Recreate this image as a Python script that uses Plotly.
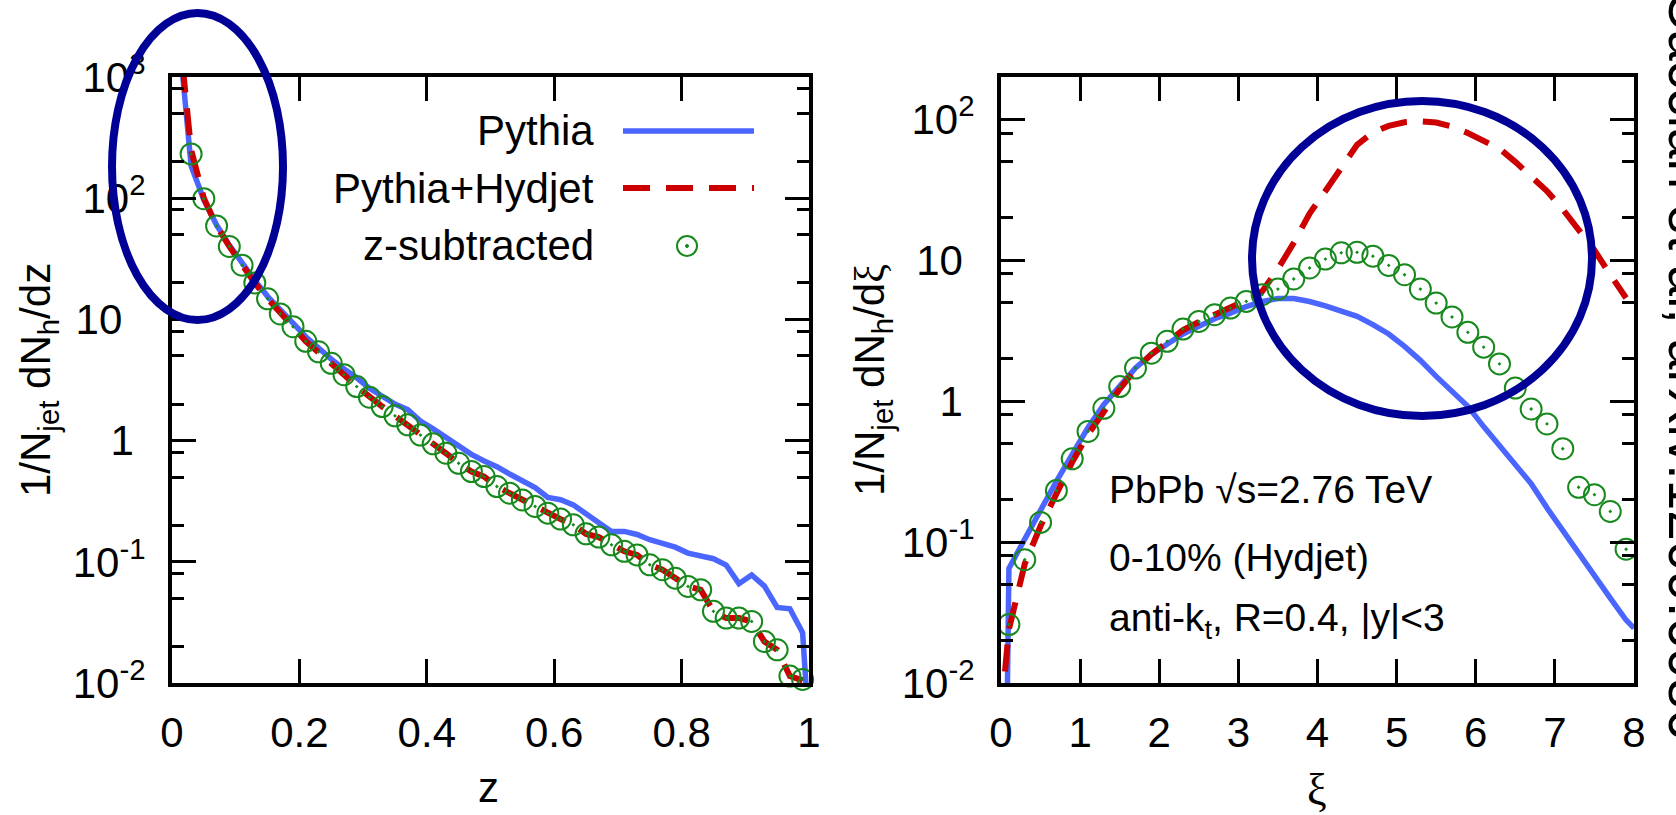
import plotly.graph_objects as go

W, H = 1676, 815
FONT = "Liberation Sans"
BLUE = "#4a66ff"
RED = "#cc0000"
GREEN = "#17891d"
NAVY = "#000096"
TITLE_BLUE = "#2233a6"

# ---------------- left panel: 1/Njet dNh/dz versus z ----------------
z_bins = [0.01, 0.03, 0.05, 0.07, 0.09, 0.11, 0.13, 0.15, 0.17, 0.19,
          0.21, 0.23, 0.25, 0.27, 0.29, 0.31, 0.33, 0.35, 0.37, 0.39,
          0.41, 0.43, 0.45, 0.47, 0.49, 0.51, 0.53, 0.55, 0.57, 0.59,
          0.61, 0.63, 0.65, 0.67, 0.69, 0.71, 0.73, 0.75, 0.77, 0.79,
          0.81, 0.83, 0.85, 0.87, 0.89, 0.91, 0.93, 0.95, 0.97, 0.99]

pythia_z_pos = z_bins + [1.0]
pythia_z = [2500, 185, 97, 60, 41, 29, 21, 15.5, 11.8, 9.3,
            7.2, 5.8, 4.7, 3.9, 3.3, 2.7, 2.3, 2.0, 1.8, 1.45,
            1.25, 1.06, 0.90, 0.77, 0.68, 0.61, 0.53, 0.47, 0.41, 0.34,
            0.325, 0.295, 0.245, 0.21, 0.178, 0.178, 0.168, 0.152, 0.142, 0.132,
            0.118, 0.113, 0.106, 0.094, 0.066, 0.078, 0.063, 0.042, 0.041, 0.026,
            0.004]

hydjet_z = [2800, 250, 100, 59, 40, 28, 20, 14.8, 11.1, 8.7,
            6.6, 5.4, 4.34, 3.5, 2.79, 2.28, 1.91, 1.60, 1.35, 1.11,
            0.94, 0.787, 0.65, 0.556, 0.505, 0.418, 0.368, 0.324, 0.286, 0.252,
            0.225, 0.202, 0.170, 0.160, 0.138, 0.122, 0.114, 0.0945, 0.086, 0.0733,
            0.0626, 0.0588, 0.039, 0.0343, 0.0343, 0.0322, 0.022, 0.0188, 0.0114, 0.0105]

sub_z_pos = z_bins[1:]
sub_z = [232, 99, 59, 40, 28, 20, 14.8, 11.1, 8.7,
         6.6, 5.4, 4.34, 3.5, 2.79, 2.28, 1.91, 1.60, 1.35, 1.11,
         0.94, 0.787, 0.65, 0.556, 0.505, 0.418, 0.368, 0.324, 0.286, 0.252,
         0.225, 0.202, 0.170, 0.160, 0.138, 0.122, 0.114, 0.0945, 0.086, 0.0733,
         0.0626, 0.0588, 0.039, 0.0343, 0.0343, 0.0322, 0.022, 0.0188, 0.0114, 0.0107]

# ---------------- right panel: 1/Njet dNh/dxi versus xi ----------------
xi_bins = [0.1, 0.3, 0.5, 0.7, 0.9, 1.1, 1.3, 1.5, 1.7, 1.9,
           2.1, 2.3, 2.5, 2.7, 2.9, 3.1, 3.3, 3.5, 3.7, 3.9,
           4.1, 4.3, 4.5, 4.7, 4.9, 5.1, 5.3, 5.5, 5.7, 5.9,
           6.1, 6.3, 6.5, 6.7, 6.9, 7.1, 7.3, 7.5, 7.7, 7.9]

pythia_xi_pos = [0.07] + xi_bins + [8.0]
pythia_xi = [0.003,
             0.065, 0.105, 0.17, 0.27, 0.42, 0.65, 0.95, 1.3, 1.72, 2.15,
             2.55, 3.0, 3.4, 3.85, 4.22, 4.7, 5.1, 5.35, 5.35, 5.1,
             4.75, 4.35, 4.0, 3.5, 3.0, 2.45, 1.95, 1.5, 1.17, 0.92,
             0.66, 0.48, 0.36, 0.26, 0.175, 0.12, 0.083, 0.057, 0.04, 0.028,
             0.0245]

hydjet_xi_pos = [0.0] + xi_bins
hydjet_xi = [0.006,
             0.024, 0.07, 0.13, 0.22, 0.37, 0.58, 0.86, 1.22, 1.68, 2.15,
             2.62, 3.2, 3.65, 4.1, 4.6, 5.2, 6.0, 8.7, 13.3, 21.5,
             31, 46, 66, 81, 90, 95.5, 97, 95, 89, 80,
             71, 62, 50, 40, 31, 23, 16.5, 11.8, 7.9, 5.4]

sub_xi = [0.026, 0.075, 0.138, 0.232, 0.39, 0.61, 0.89, 1.27, 1.72, 2.19,
          2.66, 3.25, 3.68, 4.11, 4.58, 5.11, 5.70, 6.25, 7.37, 8.82,
          10.2, 11.3, 11.4, 10.7, 9.2, 7.9, 6.25, 4.97, 3.96, 3.08,
          2.42, 1.84, 1.24, 0.88, 0.69, 0.46, 0.245, 0.217, 0.165, 0.089]

z_ticks = [0, 0.2, 0.4, 0.6, 0.8, 1]
z_tick_text = ["0", "0.2", "0.4", "0.6", "0.8", "1"]
xi_ticks = [0, 1, 2, 3, 4, 5, 6, 7, 8]
xi_tick_text = ["0", "1", "2", "3", "4", "5", "6", "7", "8"]
left_y_ticks = [0.01, 0.1, 1, 10, 100, 1000]
left_y_text = ["10<sup>-2</sup>", "10<sup>-1</sup>", "1\u00a0", "10\u00a0\u00a0",
               "10<sup>2</sup>", "10<sup>3</sup>"]
right_y_ticks = [0.01, 0.1, 1, 10, 100]
right_y_text = ["10<sup>-2</sup>", "10<sup>-1</sup>", "1\u00a0", "10\u00a0", "10<sup>2</sup>"]
left_minor = [0.02, 0.05, 0.08, 0.2, 0.5, 0.8, 2, 5, 8, 20, 50, 80, 200, 500, 800]
right_minor = [0.02, 0.05, 0.08, 0.2, 0.5, 0.8, 2, 5, 8, 20, 50, 80]

# slide title above the panels: only the lower edge of its glyphs lies inside the page
title_chars = ["g", "(", ")"]
title_x_px = [514, 1114, 1441]
title_y_px = [-42, -42, -42]


def px(x):
    return x / W


def py(y):
    return 1 - y / H


fig = go.Figure()

# left panel curves
fig.add_trace(go.Scatter(x=pythia_z_pos, y=pythia_z, mode="lines", name="Pythia",
                         line=dict(color=BLUE, width=5.5), xaxis="x", yaxis="y"))
fig.add_trace(go.Scatter(x=z_bins, y=hydjet_z, mode="lines", name="Pythia+Hydjet",
                         line=dict(color=RED, width=6, dash="27px,16px"), xaxis="x", yaxis="y"))
fig.add_trace(go.Scatter(x=sub_z_pos, y=sub_z, mode="markers", name="z-subtracted",
                         marker=dict(symbol="circle-open-dot", size=21, color=GREEN,
                                     line=dict(width=2, color=GREEN)),
                         cliponaxis=False, xaxis="x", yaxis="y"))

# right panel curves
fig.add_trace(go.Scatter(x=pythia_xi_pos, y=pythia_xi, mode="lines", name="Pythia",
                         line=dict(color=BLUE, width=5.5), xaxis="x2", yaxis="y2"))
fig.add_trace(go.Scatter(x=hydjet_xi_pos, y=hydjet_xi, mode="lines", name="Pythia+Hydjet",
                         line=dict(color=RED, width=6, dash="27px,16px"), xaxis="x2", yaxis="y2"))
fig.add_trace(go.Scatter(x=xi_bins, y=sub_xi, mode="markers", name="z-subtracted",
                         marker=dict(symbol="circle-open-dot", size=21, color=GREEN,
                                     line=dict(width=2, color=GREEN)),
                         cliponaxis=False, xaxis="x2", yaxis="y2"))

# full-page layer in pixel units for the cut-off title
fig.add_trace(go.Scatter(x=title_x_px, y=title_y_px, mode="text", text=title_chars,
                         textposition="middle center", hoverinfo="skip", cliponaxis=False,
                         textfont=dict(family=FONT, size=56, color=TITLE_BLUE),
                         xaxis="x3", yaxis="y3"))

axis_common = dict(showline=True, linewidth=4, linecolor="black", mirror="allticks",
                   ticks="inside", ticklen=24, tickwidth=3, tickcolor="black",
                   showgrid=False, zeroline=False, automargin=False,
                   tickfont=dict(family=FONT, size=42, color="black"))
minor_common = dict(ticks="inside", ticklen=12, tickwidth=3, tickcolor="black", showgrid=False)

y_dom = [py(683), py(77)]

fig.update_layout(
    width=W, height=H,
    margin=dict(l=0, r=0, t=0, b=0, pad=0, autoexpand=False),
    paper_bgcolor="white", plot_bgcolor="rgba(0,0,0,0)",
    showlegend=False,
    font=dict(family=FONT, color="black"),
    xaxis=dict(domain=[px(172), px(809)], range=[0, 1], anchor="y",
               tickmode="array", tickvals=z_ticks, ticktext=z_tick_text,
               ticklabelstandoff=10, **axis_common),
    yaxis=dict(domain=y_dom, type="log", range=[-2, 3], anchor="x",
               tickmode="array", tickvals=left_y_ticks, ticktext=left_y_text,
               ticklabelstandoff=14,
               minor=dict(tickmode="array", tickvals=left_minor, **minor_common),
               **axis_common),
    xaxis2=dict(domain=[px(1001), px(1634)], range=[0, 8], anchor="y2",
                tickmode="array", tickvals=xi_ticks, ticktext=xi_tick_text,
                ticklabelstandoff=10, **axis_common),
    yaxis2=dict(domain=y_dom, type="log", range=[-2, 2.30103], anchor="x2",
                tickmode="array", tickvals=right_y_ticks, ticktext=right_y_text,
                ticklabelstandoff=14,
                minor=dict(tickmode="array", tickvals=right_minor, **minor_common),
                **axis_common),
    xaxis3=dict(domain=[0, 1], range=[0, W], anchor="y3", visible=False, fixedrange=True),
    yaxis3=dict(domain=[0, 1], range=[H, 0], anchor="x3", visible=False, fixedrange=True),
)

annotations = []


def text(x, y, s, size, xanchor="center", yanchor="middle", angle=0, color="black"):
    annotations.append(dict(x=px(x), y=py(y), xref="paper", yref="paper", text=s,
                            showarrow=False, xanchor=xanchor, yanchor=yanchor,
                            textangle=angle, borderpad=0,
                            font=dict(family=FONT, size=size, color=color)))


# axis titles
text(489, 787, "z", 42)
text(1317, 789, '<span style="font-family:Liberation Serif">ξ</span>', 44)
text(38, 380, "1/N<sub>jet</sub> dN<sub>h</sub>/dz", 42, angle=-90)
text(872, 380, '1/N<sub>jet</sub> dN<sub>h</sub>/d<span style="font-family:Liberation Serif">ξ</span>',
     42, angle=-90)

# legend entries (text left of sample)
text(595, 131, "Pythia", 42, xanchor="right")
text(595, 188, "Pythia+Hydjet", 42, xanchor="right")
text(595, 245, "z-subtracted", 42, xanchor="right")

# right-panel labels
text(1108, 489, "PbPb \u221as=2.76 TeV", 39, xanchor="left")
text(1108, 557, "0-10% (Hydjet)", 39, xanchor="left")
text(1108, 620, "anti-k<sub>t</sub>, R=0.4, |y|<3", 39, xanchor="left")

# reference note along the right edge
text(1656, -11, "Cacciari et al, arXiv:1209.6086", 55, xanchor="left", yanchor="top", angle=90)

fig.update_layout(annotations=annotations)

shapes = [
    # legend samples
    dict(type="line", xref="paper", yref="paper", x0=px(623), x1=px(754), y0=py(131), y1=py(131),
         line=dict(color=BLUE, width=5.5)),
    dict(type="line", xref="paper", yref="paper", x0=px(623), x1=px(754), y0=py(188), y1=py(188),
         line=dict(color=RED, width=6, dash="27px,16px")),
    dict(type="circle", xref="paper", yref="paper", x0=px(677), x1=px(697), y0=py(256), y1=py(236),
         line=dict(color=GREEN, width=2)),
    dict(type="circle", xref="paper", yref="paper", x0=px(685.5), x1=px(688.5), y0=py(247.5), y1=py(244.5),
         line=dict(color=GREEN, width=1), fillcolor=GREEN),
    # highlight ellipses
    dict(type="circle", xref="paper", yref="paper", x0=px(112), x1=px(283), y0=py(320), y1=py(13),
         line=dict(color=NAVY, width=8), layer="above"),
    dict(type="circle", xref="paper", yref="paper", x0=px(1252), x1=px(1592), y0=py(416), y1=py(101),
         line=dict(color=NAVY, width=8), layer="above"),
]
fig.update_layout(shapes=shapes)

fig.write_html("out.html")
